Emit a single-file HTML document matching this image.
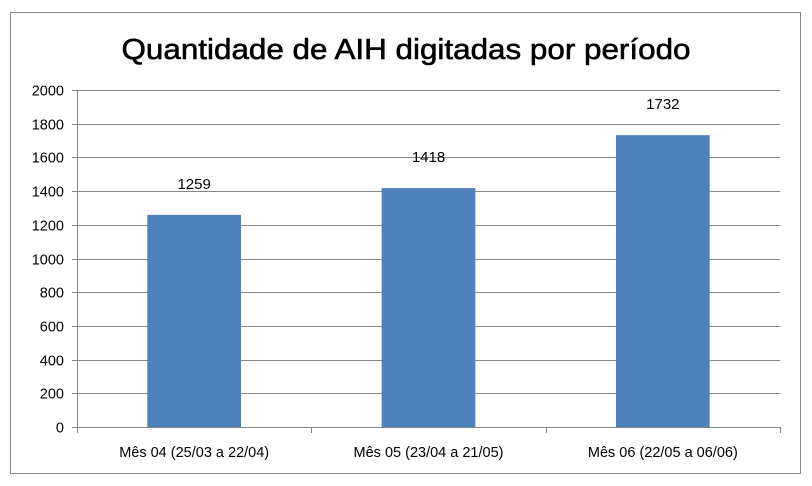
<!DOCTYPE html>
<html><head><meta charset="utf-8"><style>
html,body{margin:0;padding:0;background:#fff;}
svg{display:block;font-family:"Liberation Sans",sans-serif;}
</style></head><body>
<svg id="chart" width="812" height="486">
<rect x="10.5" y="12.5" width="790" height="461" fill="#fff" stroke="#868686"/>
<text x="406" y="59" text-anchor="middle" font-size="29" textLength="569" lengthAdjust="spacingAndGlyphs" fill="#000" stroke="#000" stroke-width="0.6">Quantidade de AIH digitadas por período</text>
<g id="grid"></g><g id="bars"></g><g id="axes"></g>
</svg>
<script>
const categories = ["Mês 04 (25/03 a 22/04)", "Mês 05 (23/04 a 21/05)", "Mês 06 (22/05 a 06/06)"];
const values = [1259, 1418, 1732];
const yTicks = [0, 200, 400, 600, 800, 1000, 1200, 1400, 1600, 1800, 2000];
const NS = "http://www.w3.org/2000/svg";
const X0 = 77, X1 = 780, Y0 = 427, Y1 = 90, YMAX = 2000;
const bw = (X1 - X0) / categories.length;
function y(v){ return Y0 - (v / YMAX) * (Y0 - Y1); }
function xc(i){ return X0 + bw * (i + 0.5); }
function mk(tag, attrs, parent){ const e = document.createElementNS(NS, tag); for (const k in attrs) e.setAttribute(k, attrs[k]); parent.appendChild(e); return e; }
const grid = document.getElementById('grid'), bars = document.getElementById('bars'), axes = document.getElementById('axes');
yTicks.forEach(t => {
  const yy = Math.round(y(t)) + 0.5;
  if (t > 0) {
    const g = mk('line', {x1: X0, x2: X1, y1: yy, y2: yy, stroke: '#868686'}, grid);
    
    
  }
  const tk = mk('line', {x1: X0 - 5, x2: X0, y1: yy, y2: yy, stroke: '#868686'}, axes);
  
  
  const lb = mk('text', {x: X0 - 13, y: yy + 5, 'text-anchor': 'end', 'font-size': 14.5, fill: '#000'}, axes);
  lb.textContent = t;
  
  
});
const ya = mk('line', {x1: X0 + 0.5, x2: X0 + 0.5, y1: Y1, y2: Y0 + 0.5, stroke: '#868686'}, axes);


const xa = mk('line', {x1: X0, x2: X1, y1: Y0 + 0.5, y2: Y0 + 0.5, stroke: '#868686'}, axes);


for (let i = 0; i <= categories.length; i++) {
  const xx = Math.round(X0 + bw * i) + 0.5;
  const t = mk('line', {x1: xx, x2: xx, y1: Y0, y2: Y0 + 6, stroke: '#868686'}, axes);
  
  
}
categories.forEach((c, i) => {
  const w = bw * 0.4, v = values[i];
  const b = mk('rect', {x: xc(i) - w / 2, y: y(v), width: w, height: Y0 - y(v), fill: '#4f81bd'}, bars);
  
  
  const vl = mk('text', {x: xc(i), y: y(v) - 26, 'text-anchor': 'middle', 'font-size': 15, fill: '#000'}, bars);
  vl.textContent = v;
  
  
  const cl = mk('text', {x: xc(i), y: Y0 + 30, 'text-anchor': 'middle', 'font-size': 14.5, fill: '#000'}, axes);
  cl.textContent = c;
  
  
});
</script>
</body></html>
